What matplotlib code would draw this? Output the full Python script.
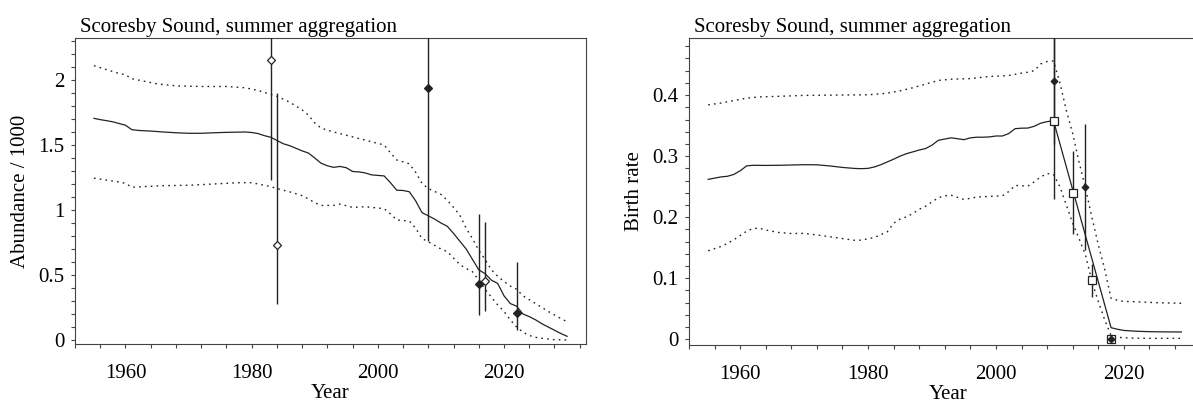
import matplotlib
matplotlib.use("Agg")
import matplotlib.pyplot as plt
from matplotlib.ticker import FixedLocator

plt.rcParams['font.family'] = ['Liberation Serif', 'DejaVu Serif']
plt.rcParams['font.size'] = 15

TITLE = "Scoresby Sound, summer aggregation"

# ---- left panel: abundance / 1000 ----
ab_years = [1955, 1956, 1957, 1958, 1959, 1960, 1961, 1962, 1964, 1966, 1968, 1970,
            1972, 1974, 1976, 1978, 1979, 1980, 1981, 1982, 1983, 1984, 1985, 1986,
            1987, 1988, 1989, 1990, 1991, 1992, 1993, 1994, 1995, 1996, 1997, 1998,
            1999, 2000, 2001, 2002, 2003, 2004, 2005, 2006, 2007, 2008, 2009, 2010,
            2011, 2012, 2013, 2014, 2015, 2016, 2017, 2018, 2019, 2020, 2021, 2022,
            2023, 2024, 2025, 2026, 2027, 2028, 2029, 2030]
ab_mean = [1.705, 1.695, 1.687, 1.678, 1.665, 1.652, 1.618, 1.612, 1.607, 1.600, 1.594, 1.590,
           1.590, 1.594, 1.597, 1.599, 1.600, 1.596, 1.588, 1.572, 1.560, 1.535, 1.510, 1.495,
           1.475, 1.455, 1.438, 1.400, 1.360, 1.340, 1.328, 1.335, 1.325, 1.296, 1.293, 1.285,
           1.270, 1.266, 1.262, 1.210, 1.152, 1.150, 1.140, 1.070, 0.980, 0.955, 0.930, 0.900,
           0.875, 0.820, 0.760, 0.700, 0.620, 0.540, 0.510, 0.460, 0.435, 0.340, 0.280, 0.260,
           0.200, 0.180, 0.155, 0.125, 0.100, 0.075, 0.050, 0.028]

ab_hi_years = [1955, 1957, 1959, 1960, 1961, 1963, 1965, 1968, 1972, 1976, 1979, 1981,
               1983, 1984, 1986, 1988, 1989, 1990, 1991, 1993, 1995, 1997, 1999, 2001,
               2002, 2003, 2005, 2006, 2007, 2008, 2010, 2011, 2012, 2013, 2014, 2015,
               2016, 2017, 2018, 2019, 2020, 2021, 2022, 2023, 2025, 2027, 2029, 2030]
ab_hi = [2.11, 2.08, 2.05, 2.04, 2.01, 1.99, 1.97, 1.955, 1.95, 1.95, 1.94, 1.92,
         1.89, 1.875, 1.83, 1.77, 1.73, 1.67, 1.63, 1.60, 1.575, 1.55, 1.525, 1.50,
         1.44, 1.385, 1.355, 1.29, 1.205, 1.165, 1.12, 1.075, 1.02, 0.96, 0.86, 0.78,
         0.69, 0.62, 0.54, 0.49, 0.45, 0.415, 0.39, 0.34, 0.28, 0.22, 0.165, 0.14]

ab_lo_years = [1955, 1957, 1959, 1960, 1961, 1963, 1966, 1970, 1974, 1978, 1980, 1982,
               1983, 1984, 1986, 1988, 1989, 1990, 1991, 1993, 1994, 1996, 1998, 2000,
               2001, 2002, 2003, 2005, 2006, 2007, 2008, 2010, 2011, 2012, 2013, 2014,
               2015, 2016, 2017, 2018, 2019, 2020, 2021, 2022, 2023, 2024, 2025, 2026,
               2028, 2030]
ab_lo = [1.245, 1.23, 1.215, 1.205, 1.175, 1.18, 1.187, 1.19, 1.20, 1.21, 1.21, 1.19,
         1.18, 1.165, 1.14, 1.11, 1.085, 1.056, 1.035, 1.035, 1.045, 1.02, 1.025, 1.015,
         1.01, 0.97, 0.923, 0.915, 0.86, 0.78, 0.756, 0.70, 0.68, 0.63, 0.58, 0.55,
         0.525, 0.46, 0.39, 0.33, 0.27, 0.22, 0.154, 0.10, 0.06, 0.035, 0.02, 0.013,
         0.002, 0.0]

ab_obs_years = [1983, 1984, 2008, 2016, 2017, 2022]
ab_obs = [2.15, 0.73, 1.94, 0.43, 0.45, 0.21]
ab_obs_lo = [1.23, 0.28, 0.76, 0.19, 0.22, 0.08]
ab_obs_hi = [3.76, 1.90, 4.95, 0.97, 0.91, 0.60]
ab_obs_filled = [False, False, True, True, False, True]

# ---- right panel: birth rate ----
br_years = [1955, 1956, 1957, 1958, 1959, 1960, 1961, 1962, 1964, 1966, 1968, 1970,
            1972, 1974, 1976, 1978, 1979, 1980, 1981, 1982, 1983, 1984, 1985, 1986,
            1987, 1988, 1989, 1990, 1991, 1992, 1993, 1994, 1995, 1996, 1997, 1998,
            1999, 2000, 2001, 2002, 2003, 2004, 2005, 2006, 2007, 2008, 2009, 2018,
            2019, 2020, 2022, 2024, 2026, 2029]
br_mean = [0.262, 0.264, 0.266, 0.267, 0.270, 0.276, 0.284, 0.285, 0.2848, 0.285, 0.2855, 0.286,
           0.2858, 0.284, 0.2815, 0.2798, 0.2795, 0.280, 0.2823, 0.286, 0.2905, 0.295, 0.300, 0.304,
           0.307, 0.310, 0.3125, 0.318, 0.326, 0.328, 0.330, 0.3285, 0.327, 0.330, 0.331, 0.331,
           0.3315, 0.333, 0.333, 0.337, 0.345, 0.3458, 0.346, 0.349, 0.354, 0.3565, 0.358, 0.019,
           0.0165, 0.0145, 0.0132, 0.0125, 0.0122, 0.012]

br_hi_years = [1955, 1957, 1959, 1961, 1963, 1966, 1970, 1975, 1980, 1983, 1985, 1987,
               1989, 1991, 1993, 1996, 1999, 2002, 2004, 2005, 2006, 2007, 2008, 2009,
               2010, 2011, 2012, 2013, 2014, 2015, 2016, 2017, 2018, 2019, 2020, 2022,
               2025, 2029]
br_hi = [0.384, 0.387, 0.391, 0.395, 0.397, 0.398, 0.3995, 0.400, 0.4005, 0.403, 0.407, 0.412,
         0.418, 0.424, 0.426, 0.427, 0.4305, 0.432, 0.436, 0.4375, 0.440, 0.451, 0.455, 0.456,
         0.420, 0.375, 0.337, 0.290, 0.247, 0.200, 0.155, 0.115, 0.067, 0.064, 0.062, 0.0615,
         0.060, 0.059]

br_lo_years = [1955, 1957, 1958, 1959, 1960, 1961, 1962, 1963, 1964, 1966, 1968, 1970,
               1972, 1974, 1976, 1978, 1979, 1981, 1983, 1984, 1985, 1986, 1987, 1988,
               1989, 1990, 1991, 1992, 1993, 1995, 1997, 1999, 2001, 2002, 2003, 2005,
               2006, 2007, 2008, 2009, 2010, 2011, 2012, 2013, 2014, 2015, 2016, 2017,
               2018, 2019, 2021, 2024, 2029]
br_lo = [0.145, 0.152, 0.157, 0.163, 0.170, 0.177, 0.1815, 0.182, 0.179, 0.175, 0.1733, 0.1735,
         0.171, 0.168, 0.165, 0.162, 0.1625, 0.1668, 0.176, 0.190, 0.197, 0.2005, 0.206, 0.213,
         0.218, 0.225, 0.232, 0.235, 0.236, 0.229, 0.233, 0.234, 0.235, 0.242, 0.252, 0.251,
         0.258, 0.266, 0.2715, 0.270, 0.250, 0.220, 0.190, 0.165, 0.138, 0.095, 0.062, 0.032,
         0.006, 0.0033, 0.002, 0.0016, 0.0016]

br_dia_years = [2009, 2014, 2018]
br_dia = [0.423, 0.250, 0.0]
br_dia_lo = [0.230, 0.147, 0.0]
br_dia_hi = [0.620, 0.352, 0.005]

br_sq_years = [2009, 2012, 2015, 2018]
br_sq = [0.357, 0.240, 0.097, 0.0]
br_sq_lo = [0.320, 0.172, 0.070, 0.0]
br_sq_hi = [0.520, 0.308, 0.123, 0.003]

W, H = 1193, 403
fig = plt.figure(figsize=(W / 100, H / 100), dpi=100)

ink = '#222222'
dot = (0, (1.2, 3.0))


def box(x0, x1, top, bottom):
    return [x0 / W, (H - bottom) / H, (x1 - x0) / W, (bottom - top) / H]


def style(ax, ylab, ymaj, ymin_step, ytop_tick, ylim):
    ax.set_xlim(1952, 2033)
    ax.set_ylim(*ylim)
    ax.xaxis.set_major_locator(FixedLocator([1960, 1980, 2000, 2020]))
    ax.xaxis.set_minor_locator(FixedLocator(list(range(1952, 2033, 4))))
    ax.yaxis.set_major_locator(FixedLocator(ymaj))
    n = int(round(ytop_tick / ymin_step))
    ax.yaxis.set_minor_locator(FixedLocator([i * ymin_step for i in range(n + 1)]))
    ax.yaxis.set_major_formatter(plt.FuncFormatter(lambda v, p: ('%g' % round(v, 3))))
    ax.tick_params(which='both', direction='out', length=3.2, width=0.8, color='#444444')
    ax.tick_params(axis='x', which='both', pad=11.5, labelsize=15)
    ax.tick_params(axis='y', which='both', pad=4.5, labelsize=15)
    for s in ax.spines.values():
        s.set_linewidth(0.8)
        s.set_color('#444444')
    ax.text(-0.106, 0.5, ylab, transform=ax.transAxes, rotation=90,
            ha='center', va='center', fontsize=15)
    ax.text(0.5, -0.178, 'Year', transform=ax.transAxes, ha='center',
            va='baseline', fontsize=15)
    ax.annotate(TITLE, xy=(0, 1), xycoords='axes fraction', xytext=(3.8, 4.5),
                textcoords='offset points', ha='left', va='baseline', fontsize=15)


# left
ax1 = fig.add_axes(box(75, 586, 38, 344))
ax1.plot(ab_years, ab_mean, color=ink, lw=0.9)
ax1.plot(ab_hi_years, ab_hi, color=ink, lw=1.0, ls=dot)
ax1.plot(ab_lo_years, ab_lo, color=ink, lw=1.0, ls=dot)
ax1.vlines(ab_obs_years, ab_obs_lo, ab_obs_hi, color=ink, lw=1.0, zorder=3)
for x, y, f in zip(ab_obs_years, ab_obs, ab_obs_filled):
    ax1.plot([x], [y], marker='D', ms=3.6, mec=ink, mew=0.9,
             mfc=ink if f else 'white', zorder=4)
style(ax1, 'Abundance / 1000', [0, 0.5, 1, 1.5, 2], 0.1, 2.3, (-0.031, 2.323))

# right (runs past the figure edge, as in the reference)
ax2 = fig.add_axes(box(689, 1207, 38, 344.5))
ax2.plot(br_years, br_mean, color=ink, lw=0.9)
ax2.plot(br_hi_years, br_hi, color=ink, lw=1.0, ls=dot)
ax2.plot(br_lo_years, br_lo, color=ink, lw=1.0, ls=dot)
ax2.vlines(br_dia_years, br_dia_lo, br_dia_hi, color=ink, lw=1.0, zorder=3)
ax2.vlines(br_sq_years, br_sq_lo, br_sq_hi, color=ink, lw=1.0, zorder=3)
ax2.plot(br_sq_years, br_sq, ls='none', marker='s', ms=5.8, mec=ink, mew=0.9,
         mfc='white', zorder=4)
ax2.plot(br_dia_years, br_dia, ls='none', marker='D', ms=3.4, mec=ink, mew=0.9,
         mfc=ink, zorder=5)
style(ax2, 'Birth rate', [0, 0.1, 0.2, 0.3, 0.4], 0.02, 0.48, (-0.0085, 0.4935))

fig.savefig('out.png', dpi=100)
